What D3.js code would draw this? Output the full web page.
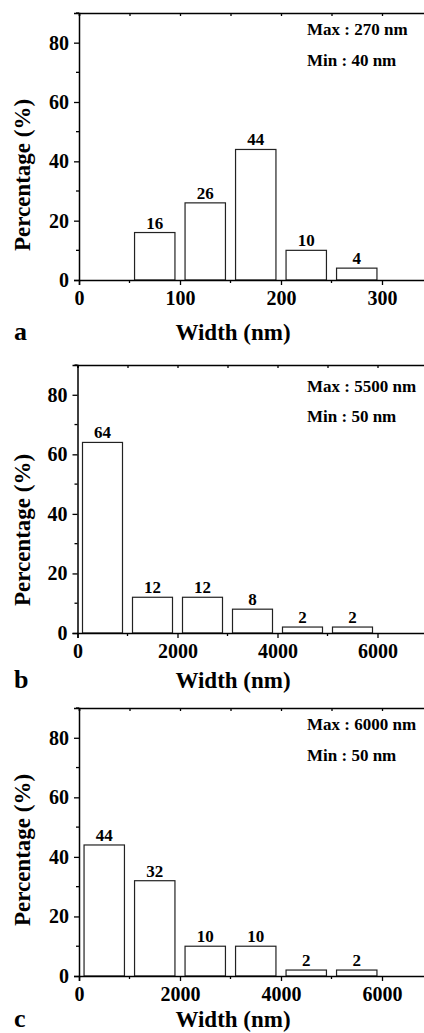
<!DOCTYPE html>
<html><head><meta charset="utf-8">
<script src="https://cdn.jsdelivr.net/npm/d3@7"></script>
<style>
html,body{margin:0;padding:0;background:#fff;}
svg{display:block;}
text{font-family:"Liberation Serif","Times New Roman",serif;font-weight:bold;fill:#000;}
</style></head>
<body>
<script>
// ---- data ----
const panelLetters = ["a", "b", "c"];
const binStartA = [55, 105, 155, 205, 255];
const binEndA   = [95, 145, 195, 245, 295];
const valuesA   = [16, 26, 44, 10, 4];
const binStartB = [100, 1100, 2100, 3100, 4100, 5100];
const binEndB   = [900, 1900, 2900, 3900, 4900, 5900];
const valuesB   = [64, 12, 12, 8, 2, 2];
const binStartC = [100, 1100, 2100, 3100, 4100, 5100];
const binEndC   = [900, 1900, 2900, 3900, 4900, 5900];
const valuesC   = [44, 32, 10, 10, 2, 2];
const xTicksA = [0, 100, 200, 300];
const xTicksBC = [0, 2000, 4000, 6000];
const yTicks = [0, 20, 40, 60, 80];
const maxLabels = ["Max : 270 nm", "Max : 5500 nm", "Max : 6000 nm"];
const minLabels = ["Min : 40 nm", "Min : 50 nm", "Min : 50 nm"];
const xTitle = "Width (nm)";
const yTitle = "Percentage (%)";

const panels = [
  {letter: panelLetters[0], s: binStartA, e: binEndA, v: valuesA, ticks: xTicksA, minor: 50, xmax: 350,
   x0: 79, x1: 432.5, top: 13, bottom: 280, ytx: 30, yty: 175, maxY: 35, minY: 66, titleY: 340, letterY: 340},
  {letter: panelLetters[1], s: binStartB, e: binEndB, v: valuesB, ticks: xTicksBC, minor: 1000, xmax: 7000,
   x0: 77.5, x1: 427.5, top: 365, bottom: 633, ytx: 30, yty: 530, maxY: 392, minY: 422, titleY: 688, letterY: 688},
  {letter: panelLetters[2], s: binStartC, e: binEndC, v: valuesC, ticks: xTicksBC, minor: 1000, xmax: 7000,
   x0: 79, x1: 432.5, top: 708, bottom: 976, ytx: 30, yty: 850, maxY: 730, minY: 761, titleY: 1027, letterY: 1027}
];

const W = 424, H = 1033;
const svg = d3.select("body").append("svg").attr("width", W).attr("height", H);

panels.forEach((p, i) => {
  const x = d3.scaleLinear().domain([0, p.xmax]).range([p.x0, p.x1]);
  const y = d3.scaleLinear().domain([0, 90]).range([p.bottom, p.top]);
  const g = svg.append("g");

  // bars
  g.selectAll("rect.bar").data(p.v).enter().append("rect")
    .attr("class", "bar")
    .attr("x", (d, k) => x(p.s[k]))
    .attr("width", (d, k) => x(p.e[k]) - x(p.s[k]))
    .attr("y", d => y(d))
    .attr("height", d => y(0) - y(d))
    .attr("fill", "#fff").attr("stroke", "#222").attr("stroke-width", 1.2);

  // bar labels
  g.selectAll("text.bl").data(p.v).enter().append("text")
    .attr("class", "bl")
    .attr("x", (d, k) => (x(p.s[k]) + x(p.e[k])) / 2)
    .attr("y", d => y(d) - 4)
    .attr("text-anchor", "middle").style("font-size", "17px")
    .text(d => d);

  const minorX = d3.range(0, p.xmax + 1, p.minor);
  const minorY = d3.range(0, 91, 10);

  // bottom axis
  const bottomAxis = d3.axisBottom(x).tickValues(p.ticks).tickSize(5).tickPadding(3).tickFormat(d3.format("d"));
  const gb = g.append("g").attr("transform", `translate(0,${p.bottom})`).call(bottomAxis);
  gb.select(".domain").attr("stroke", "#000").attr("stroke-width", 1.5);
  gb.selectAll(".tick line").attr("stroke", "#000").attr("stroke-width", 1.3);
  gb.selectAll(".tick text").style("font-size", "20px").style("font-family", "Liberation Serif").style("font-weight", "bold").attr("fill", "#000").attr("dy", "0.71em").attr("y", 11);
  // minor bottom ticks
  g.selectAll("line.mb").data(minorX.filter(v => !p.ticks.includes(v))).enter().append("line")
    .attr("x1", d => x(d)).attr("x2", d => x(d)).attr("y1", p.bottom).attr("y2", p.bottom + 3)
    .attr("stroke", "#000").attr("stroke-width", 1.3);

  // top axis line with inward minor ticks
  const topAxis = d3.axisTop(x).tickValues(minorX).tickSize(-3).tickFormat("");
  const gt = g.append("g").attr("transform", `translate(0,${p.top})`).call(topAxis);
  gt.select(".domain").attr("stroke", "#000").attr("stroke-width", 1.5);
  gt.selectAll(".tick line").attr("stroke", "#000").attr("stroke-width", 1.3);

  // left axis
  const leftAxis = d3.axisLeft(y).tickValues(yTicks).tickSize(5).tickPadding(5).tickFormat(d3.format("d"));
  const gl = g.append("g").attr("transform", `translate(${p.x0},0)`).call(leftAxis);
  gl.select(".domain").attr("stroke", "#000").attr("stroke-width", 1.5);
  gl.selectAll(".tick line").attr("stroke", "#000").attr("stroke-width", 1.3);
  gl.selectAll(".tick text").style("font-size", "20px").style("font-family", "Liberation Serif").style("font-weight", "bold").attr("fill", "#000");
  g.selectAll("line.ml").data(minorY.filter(v => !yTicks.includes(v))).enter().append("line")
    .attr("x1", p.x0 - 3).attr("x2", p.x0).attr("y1", d => y(d)).attr("y2", d => y(d))
    .attr("stroke", "#000").attr("stroke-width", 1.3);

  // annotations
  g.append("text").attr("x", 307).attr("y", p.maxY).style("font-size", "17px").text(maxLabels[i]);
  g.append("text").attr("x", 307).attr("y", p.minY).style("font-size", "17px").text(minLabels[i]);

  // axis titles
  g.append("text").attr("x", 233).attr("y", p.titleY).attr("text-anchor", "middle")
    .style("font-size", "23px").text(xTitle);
  g.append("text").attr("transform", `translate(${p.ytx},${p.yty}) rotate(-90)`).attr("text-anchor", "middle")
    .style("font-size", "23px").text(yTitle);

  // panel letter
  g.append("text").attr("x", 14).attr("y", p.letterY).style("font-size", "26px").text(p.letter);
});
</script>
</body></html>
